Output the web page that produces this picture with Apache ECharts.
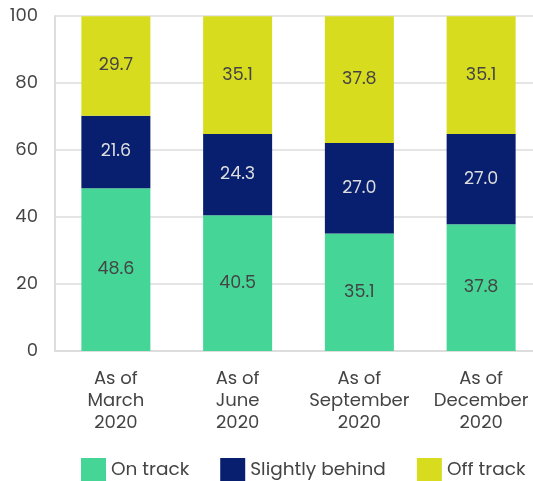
<!DOCTYPE html>
<html><head><meta charset="utf-8">
<script src="https://cdn.jsdelivr.net/npm/echarts@6/dist/echarts.min.js"></script>
<style>html,body{margin:0;padding:0;background:#fff}#c{width:533px;height:481px}</style>
</head><body><div id="c"></div>
<script>
const categories = ['As of\nMarch\n2020', 'As of\nJune\n2020', 'As of\nSeptember\n2020', 'As of\nDecember\n2020'];
const onTrack = [48.6, 40.5, 35.1, 37.8];
const slightlyBehind = [21.6, 24.3, 27.0, 27.0];
const offTrack = [29.7, 35.1, 37.8, 35.1];
const yTicks = [0, 20, 40, 60, 80, 100];

const FONT = "Poppins, 'Noto Sans', sans-serif";
const chart = echarts.init(document.getElementById('c'), null, {renderer: 'canvas'});
function s(name, data, color, labelColor) {
  return {
    name, type: 'bar', stack: 'a', data, barWidth: 69,
    itemStyle: {color},
    label: {show: true, position: 'inside', color: labelColor, fontSize: 17.5, fontFamily: FONT,
      formatter: p => p.value.toFixed(1)},
    emphasis: {disabled: true}
  };
}
chart.setOption({
  animation: false,
  textStyle: {fontFamily: FONT},
  grid: {left: 55, width: 487, top: 16, bottom: 130, containLabel: false, outerBoundsMode: 'none'},
  legend: {
    bottom: -1, left: 81, padding: 0, itemWidth: 25, itemHeight: 24, itemGap: 31, icon: 'rect',
    textStyle: {fontSize: 18.5, color: '#444', fontFamily: FONT},
    data: ['On track', 'Slightly behind', 'Off track']
  },
  xAxis: {
    type: 'category', data: categories,
    axisLine: {lineStyle: {color: '#ddd', width: 2}},
    axisTick: {show: false},
    axisLabel: {fontSize: 18, color: '#444', lineHeight: 22, margin: 17, interval: 0, fontFamily: FONT}
  },
  yAxis: {
    type: 'value', min: yTicks[0], max: yTicks[yTicks.length - 1], interval: 20,
    axisLine: {show: true, lineStyle: {color: '#ddd', width: 2}},
    splitLine: {lineStyle: {color: '#ddd', width: 1.5}},
    axisLabel: {fontSize: 18, color: '#444', margin: 17, fontFamily: FONT}
  },
  series: [
    s('On track', onTrack, '#45D597', '#444'),
    s('Slightly behind', slightlyBehind, '#071F6E', '#ddd'),
    s('Off track', offTrack, '#D7DC1F', '#444')
  ]
});
</script></body></html>
